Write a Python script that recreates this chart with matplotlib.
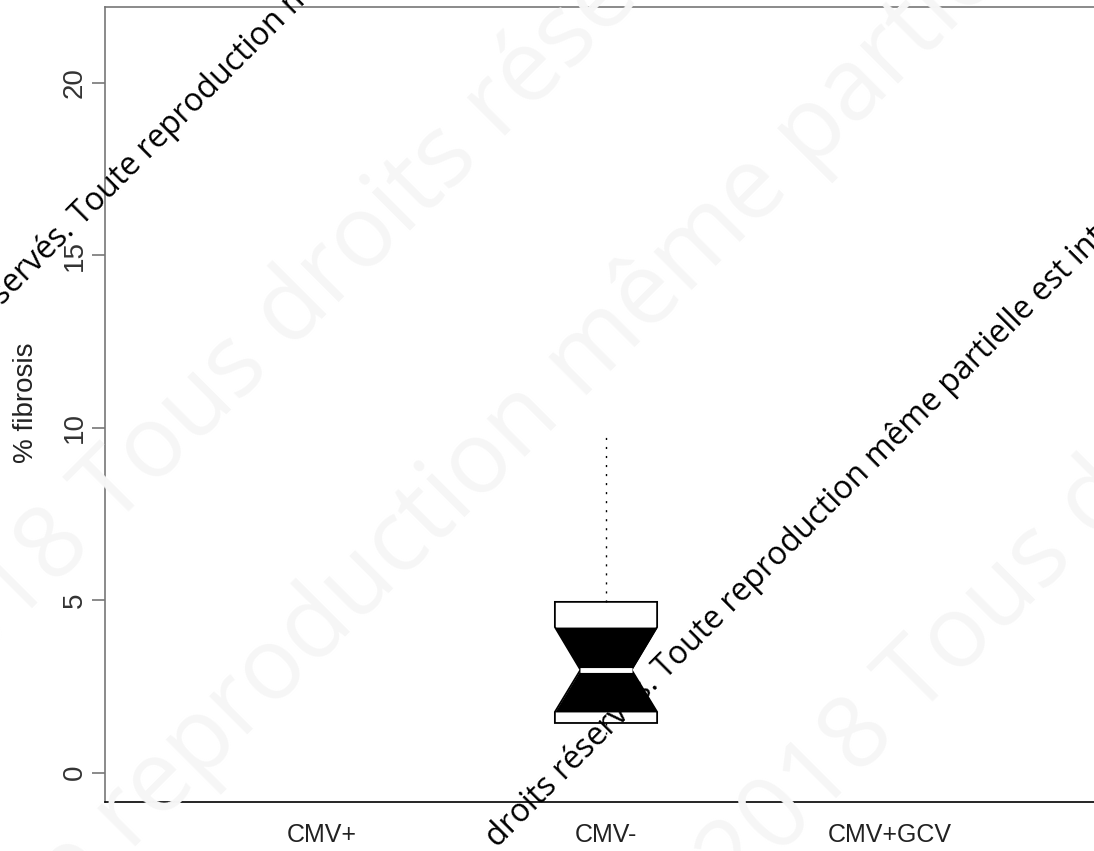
import matplotlib
matplotlib.use("Agg")
import matplotlib.pyplot as plt

# groups on the x axis; only CMV- has a visible box
groups = ["CMV+", "CMV-", "CMV+GCV"]
positions = [1, 2, 3]
box_group = "CMV-"

# notched box statistics (% fibrosis)
box_whislo = 1.1
box_q1 = 1.44
box_cilo = 1.76
box_med = 2.98
box_cihi = 4.22
box_q3 = 4.95
box_whishi = 9.8

yticks = [0, 5, 10, 15, 20]
ylim = (-0.85, 22.19)
box_width = 0.36

W, H = 1094, 851
fig = plt.figure(figsize=(W / 100, H / 100), dpi=100)
ax = fig.add_axes([105 / W, 1 - 802 / H, (1107 - 105) / W, (802 - 7) / H])

pos = positions[groups.index(box_group)]
stats = [dict(med=box_med, q1=box_q1, q3=box_q3, cilo=box_cilo, cihi=box_cihi,
              whislo=box_whislo, whishi=box_whishi, fliers=[])]
parts = ax.bxp(
    stats, positions=[pos], widths=box_width, shownotches=True,
    showcaps=False, patch_artist=True, manage_ticks=False,
    boxprops=dict(facecolor="white", edgecolor="black", linewidth=1.3),
    whiskerprops=dict(color="black", linewidth=1.0, linestyle=(0, (1.5, 5))),
    medianprops=dict(color="white", linewidth=3.5, solid_capstyle="butt"),
)

# black hourglass between the notch limits
half = box_width / 2
waist = box_width / 4
ax.fill_betweenx([box_cilo, box_med, box_cihi],
                 [pos - half, pos - waist, pos - half],
                 [pos + half, pos + waist, pos + half],
                 color="black", linewidth=0, zorder=2.05)
for m in parts["medians"]:
    m.set_zorder(3)

ax.set_xlim(0.236, 3.764)
ax.set_ylim(ylim)

sans = ["Liberation Sans", "DejaVu Sans"]

ax.set_yticks(yticks)
ax.set_yticklabels([str(t) for t in yticks], rotation=90, va="center",
                   fontsize=20, color="#333333", family=sans)
ax.tick_params(axis="y", length=9.4, width=1.2, color="#777777", pad=3)
ax.set_xticks(positions)
ax.set_xticklabels(groups, fontsize=18, color="#222222", family=sans)
ax.tick_params(axis="x", length=0, pad=15)

ax.set_ylabel("% fibrosis", fontsize=20, color="#222222", family=sans)
ax.yaxis.label.set_va("baseline")
ax.yaxis.set_label_coords(-0.072, 0.502)

for side in ["left", "top"]:
    ax.spines[side].set_color("#777777")
    ax.spines[side].set_linewidth(1.2)
ax.spines["bottom"].set_color("black")
ax.spines["bottom"].set_linewidth(1.2)


def watermark(prefix, suffix, x, y, size, color):
    """Put a 45 degree text split around the pixel point (x, y) from top-left."""
    fx, fy = x / W, 1 - y / H
    kw = dict(rotation=45, rotation_mode="anchor", va="baseline",
              fontsize=size, color=color, family=["Open Sans", "DejaVu Sans"])
    if prefix:
        fig.text(fx, fy, prefix, ha="right", **kw)
    if suffix:
        fig.text(fx, fy, suffix, ha="left", **kw)


light = "#f6f6f6"
watermark("© 2018 ", "Tous droits réservés. Toute reproduction même partielle est interdite",
          113, 528, 72, light)
watermark("Tous droits réservés. Toute ",
          "reproduction même partielle est interdite", 130, 852, 72, light)
watermark("© 2018 ", "Tous droits réservés. Toute reproduction même partielle est interdite",
          917, 718, 72, light)

watermark("© 2018 Tous droits réservés.",
          " Toute reproduction même partielle est interdite", 76, 232, 23, "black")
watermark(None, "droits réservés. Toute reproduction même partielle est interdite",
          497, 848, 23, "black")

fig.savefig("out.png", dpi=100)
